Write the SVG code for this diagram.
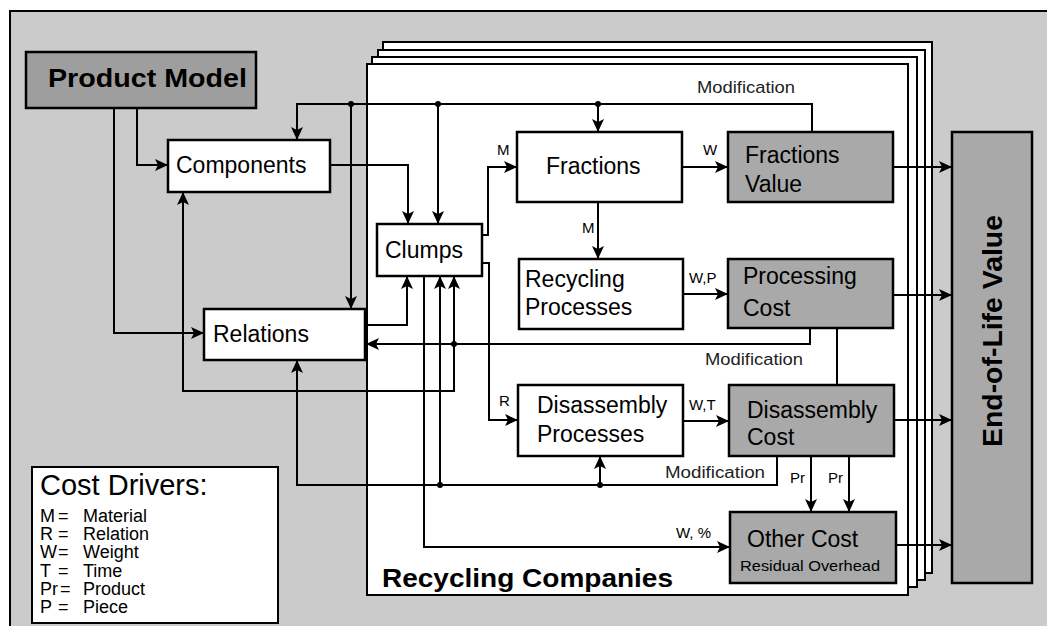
<svg xmlns="http://www.w3.org/2000/svg" width="1047" height="626" viewBox="0 0 1047 626">
<style>
.box{fill:#fff;stroke:#000;stroke-width:2.5}
.gbox{fill:#a9a9a9;stroke:#000;stroke-width:2.5}
.frame{fill:#fff;stroke:#000;stroke-width:2}
.c{fill:none;stroke:#000;stroke-width:2}
.a{marker-end:url(#arr)}
text{font-family:"Liberation Sans",Arial,sans-serif;fill:#000}
.t{font-size:23px}
.lb{font-size:15px}
.mod{font-size:16px;fill:#222}
.b{font-weight:bold}
</style>
<defs>
<marker id="arr" markerUnits="userSpaceOnUse" markerWidth="14" markerHeight="12" refX="13" refY="6" orient="auto">
<path d="M0,0 L13,6 L0,12 L3,6 z" fill="#000"/>
</marker>
</defs>
<rect x="0" y="0" width="1047" height="626" fill="#fff"/>
<rect x="10" y="11" width="1040" height="620" fill="#cbcbcb"/>
<path d="M10,631 V11 H1047" fill="none" stroke="#000" stroke-width="2"/>

<g id="recycling-companies">
<rect class="frame" x="383" y="42" width="549" height="531"/>
<rect class="frame" x="378" y="50" width="547" height="530"/>
<rect class="frame" x="372" y="57" width="545" height="530"/>
<rect class="frame" x="367" y="64" width="541" height="531"/>
<text class="b" x="382" y="587" font-size="26" textLength="291" lengthAdjust="spacingAndGlyphs">Recycling Companies</text>
</g>

<g id="connectors">
<path class="c a" d="M137,108 V165 H168"/>
<path class="c a" d="M114,108 V333 H204"/>
<path class="c a" d="M812,132 V104 H297 V140"/>
<path class="c a" d="M351,104 V309"/>
<path class="c a" d="M438,104 V224"/>
<path class="c a" d="M598,104 V132"/>
<path class="c a" d="M330,165 H408 V224"/>
<path class="c a" d="M365,325 H407 V276"/>
<path class="c a" d="M482,235 H488 V167 H517"/>
<path class="c a" d="M482,263 H489 V420 H518"/>
<path class="c a" d="M598,202 V259"/>
<path class="c a" d="M682,167 H728"/>
<path class="c a" d="M683,294 H728"/>
<path class="c a" d="M683,421 H729"/>
<path class="c a" d="M893,167 H952"/>
<path class="c a" d="M893,295 H952"/>
<path class="c a" d="M894,420 H952"/>
<path class="c a" d="M896,545 H952"/>
<path class="c a" d="M810,328 V344 H366"/>
<path class="c a" d="M454,344 V276"/>
<path class="c a" d="M454,344 V391 H183 V192"/>
<path class="c" d="M837,328 V385"/>
<path class="c a" d="M777,456 V485 H297 V360"/>
<path class="c a" d="M440,485 V276"/>
<path class="c a" d="M600,485 V456"/>
<path class="c a" d="M424,276 V547 H730"/>
<path class="c a" d="M811,456 V512"/>
<path class="c a" d="M849,456 V512"/>
<circle cx="351" cy="104" r="3"/>
<circle cx="438" cy="104" r="3"/>
<circle cx="598" cy="104" r="3"/>
<circle cx="454" cy="344" r="3"/>
<circle cx="440" cy="485" r="3"/>
<circle cx="600" cy="485" r="3"/>
<text class="lb" x="497" y="155">M</text>
<text class="lb" x="703" y="155">W</text>
<text class="lb" x="582" y="233">M</text>
<text class="lb" x="689" y="283">W,P</text>
<text class="lb" x="499" y="406">R</text>
<text class="lb" x="689" y="410">W,T</text>
<text class="lb" x="676" y="538">W, %</text>
<text class="lb" x="790" y="483">Pr</text>
<text class="lb" x="828" y="483">Pr</text>
<text class="mod" x="697" y="93" textLength="98" lengthAdjust="spacingAndGlyphs">Modification</text>
<text class="mod" x="705" y="365" textLength="98" lengthAdjust="spacingAndGlyphs">Modification</text>
<text class="mod" x="665" y="478" textLength="100" lengthAdjust="spacingAndGlyphs">Modification</text>
</g>

<g id="product-model">
<rect x="26" y="52" width="230" height="56" fill="#9e9e9e" stroke="#000" stroke-width="2.5"/>
<text class="b" x="48" y="87" font-size="26" textLength="199" lengthAdjust="spacingAndGlyphs">Product Model</text>
</g>
<g id="components">
<rect class="box" x="168" y="140" width="162" height="52"/>
<text class="t" x="176" y="173">Components</text>
</g>
<g id="relations">
<rect class="box" x="204" y="309" width="161" height="51"/>
<text class="t" x="213" y="342">Relations</text>
</g>
<g id="clumps">
<rect class="box" x="377" y="224" width="105" height="52"/>
<text class="t" x="385" y="258">Clumps</text>
</g>
<g id="fractions">
<rect class="box" x="517" y="132" width="165" height="70"/>
<text class="t" x="546" y="174">Fractions</text>
</g>
<g id="fractions-value">
<rect class="gbox" x="728" y="132" width="165" height="70"/>
<text class="t" x="745" y="163">Fractions</text>
<text class="t" x="745" y="192">Value</text>
</g>
<g id="recycling-processes">
<rect class="box" x="519" y="259" width="164" height="70"/>
<text class="t" x="525" y="287">Recycling</text>
<text class="t" x="525" y="315">Processes</text>
</g>
<g id="processing-cost">
<rect class="gbox" x="728" y="259" width="165" height="69"/>
<text class="t" x="743" y="284">Processing</text>
<text class="t" x="743" y="316">Cost</text>
</g>
<g id="disassembly-processes">
<rect class="box" x="518" y="385" width="165" height="71"/>
<text class="t" x="537" y="413">Disassembly</text>
<text class="t" x="537" y="442">Processes</text>
</g>
<g id="disassembly-cost">
<rect class="gbox" x="729" y="385" width="165" height="71"/>
<text class="t" x="747" y="418">Disassembly</text>
<text class="t" x="747" y="445">Cost</text>
</g>
<g id="other-cost">
<rect class="gbox" x="730" y="512" width="166" height="71"/>
<text class="t" x="747" y="547">Other Cost</text>
<text x="740" y="571" font-size="15" textLength="140" lengthAdjust="spacingAndGlyphs">Residual Overhead</text>
</g>
<g id="end-of-life-value">
<rect class="gbox" x="952" y="132" width="80" height="451"/>
<text class="b" transform="translate(1002,447) rotate(-90)" font-size="27" textLength="232" lengthAdjust="spacingAndGlyphs">End-of-Life Value</text>
</g>
<g id="cost-drivers">
<rect x="32" y="467" width="246" height="156" fill="#fff" stroke="#000" stroke-width="2"/>
<text x="40" y="495" font-size="29">Cost Drivers:</text>
<g font-size="18">
<text x="40" y="522">M</text><text x="58" y="522">=</text><text x="83" y="522">Material</text>
<text x="40" y="540">R</text><text x="58" y="540">=</text><text x="83" y="540">Relation</text>
<text x="40" y="558">W</text><text x="58" y="558">=</text><text x="83" y="558">Weight</text>
<text x="40" y="577">T</text><text x="58" y="577">=</text><text x="83" y="577">Time</text>
<text x="40" y="595">Pr</text><text x="60" y="595">=</text><text x="83" y="595">Product</text>
<text x="40" y="613">P</text><text x="58" y="613">=</text><text x="83" y="613">Piece</text>
</g>
</g>
</svg>
